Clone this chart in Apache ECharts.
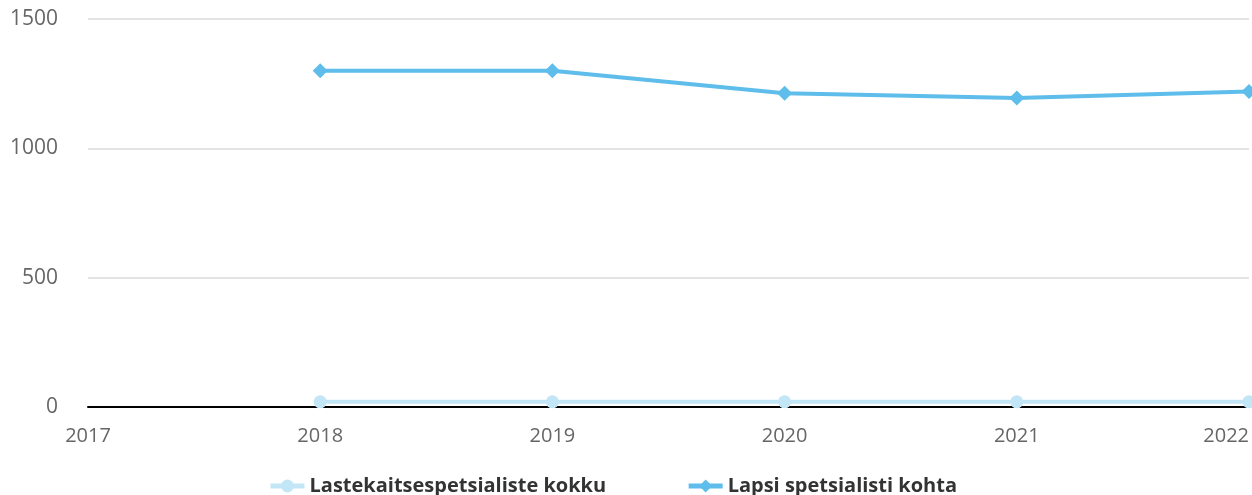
<!DOCTYPE html>
<html>
<head>
<meta charset="utf-8">
<script src="https://cdn.jsdelivr.net/npm/echarts@6/dist/echarts.min.js"></script>
<style>
  html, body { margin: 0; padding: 0; background: #fff; }
  #chart { width: 1252px; height: 495px; }
</style>
</head>
<body>
<div id="chart"></div>
<script>
// Years on the horizontal axis (2017 has no data)
const years = ['2017', '2018', '2019', '2020', '2021', '2022'];
// Number of child protection specialists in total
const specialistsTotal = [null, 20, 20, 20, 20, 20];
// Children per specialist
const childrenPerSpecialist = [null, 1300, 1300, 1213, 1195, 1220];

const seriesNames = ['Lastekaitsespetsialiste kokku', 'Lapsi spetsialisti kohta'];
const seriesColors = ['#c2e6f6', '#5ebdea'];

const chart = echarts.init(document.getElementById('chart'), null, { renderer: 'canvas' });

chart.setOption({
  animation: false,
  grid: { left: 88, right: 3, top: 19, bottom: 88, outerBoundsMode: 'none', containLabel: false },
  legend: {
    bottom: -6,
    left: 263,
    itemWidth: 34,
    itemHeight: 16,
    itemGap: 80,
    textStyle: { color: '#333', fontSize: 20, fontWeight: 'bold', fontFamily: 'Open Sans' },
    data: [
      { name: seriesNames[0], lineStyle: { width: 5, color: seriesColors[0] } },
      { name: seriesNames[1], lineStyle: { width: 5, color: seriesColors[1] } }
    ]
  },
  xAxis: {
    type: 'category',
    data: years,
    boundaryGap: false,
    axisLine: { show: true, onZero: true, lineStyle: { color: '#000', width: 2 } },
    axisTick: { show: false },
    axisLabel: {
      color: '#666', fontSize: 20, fontFamily: 'Open Sans', margin: 19,
      alignMaxLabel: 'right'
    },
    splitLine: { show: false }
  },
  yAxis: {
    type: 'value',
    min: 0,
    max: 1500,
    interval: 500,
    axisLine: { show: false },
    axisTick: { show: false },
    axisLabel: {
      color: '#666', fontSize: 21, fontFamily: 'Open Sans', margin: 30,
      formatter: (v) => String(v)
    },
    splitLine: { lineStyle: { color: '#e3e3e3', width: 2 } }
  },
  series: [
    {
      name: seriesNames[0],
      type: 'line',
      data: specialistsTotal,
      symbol: 'circle',
      symbolSize: 13,
      lineStyle: { color: seriesColors[0], width: 4 },
      itemStyle: { color: seriesColors[0] }
    },
    {
      name: seriesNames[1],
      type: 'line',
      data: childrenPerSpecialist,
      symbol: 'diamond',
      symbolSize: 15,
      lineStyle: { color: seriesColors[1], width: 4 },
      itemStyle: { color: seriesColors[1] }
    }
  ]
});
</script>
</body>
</html>
